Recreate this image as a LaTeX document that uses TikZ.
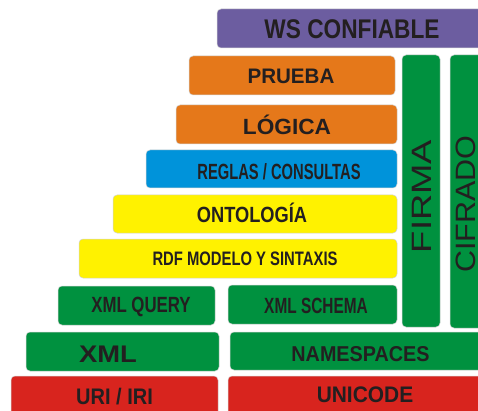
\documentclass[tikz,border=0pt]{standalone}
\usepackage{fontspec}
\usepackage{graphicx}
\setmainfont{Liberation Sans}
\definecolor{cpurple}{RGB}{108,93,160}
\definecolor{corange}{RGB}{229,120,26}
\definecolor{cblue}{RGB}{0,147,218}
\definecolor{cyellow}{RGB}{255,242,0}
\definecolor{cgreen}{RGB}{0,145,63}
\definecolor{cred}{RGB}{216,36,30}
\definecolor{ctext}{RGB}{35,31,32}
\newcommand\bx[3]{\scalebox{#2}[1]{\fontsize{#1}{#1}\selectfont\bfseries #3}}
\newcommand\rx[3]{\scalebox{#2}[1]{\fontsize{#1}{#1}\selectfont #3}}
\tikzset{
  layerbox/.style={rectangle, rounded corners=4pt, draw=black!18, line width=0.5pt, inner sep=0pt},
  lbl/.style={inner sep=0pt, text=ctext, anchor=base}
}
\begin{document}
\begin{tikzpicture}[x=1pt,y=-1pt]
\useasboundingbox (0,0) rectangle (478,411);
\clip (0,0) rectangle (478,411);
% boxes
\node[layerbox, fill=cpurple, minimum width=270pt, minimum height=39pt] (ws) at (352,28.5) {};
\node[layerbox, fill=corange, minimum width=206pt, minimum height=39pt] (prueba) at (292,75.5) {};
\node[layerbox, fill=corange, minimum width=221pt, minimum height=39pt] (logica) at (286.5,124.5) {};
\node[layerbox, fill=cblue, minimum width=251pt, minimum height=38pt] (reglas) at (271.5,169) {};
\node[layerbox, fill=cyellow, minimum width=284pt, minimum height=38pt] (onto) at (255,214) {};
\node[layerbox, fill=cyellow, minimum width=318pt, minimum height=39pt] (rdf) at (238,258.5) {};
\node[layerbox, fill=cgreen, minimum width=157pt, minimum height=39pt] (xmlq) at (136.5,305.5) {};
\node[layerbox, fill=cgreen, minimum width=169pt, minimum height=39pt] (xmls) at (312.5,304.5) {};
\node[layerbox, fill=cgreen, minimum width=193pt, minimum height=39pt] (xml) at (122.5,351.5) {};
\node[layerbox, fill=cgreen, minimum width=257pt, minimum height=38pt] (ns) at (358.5,351) {};
\node[layerbox, fill=cred, minimum width=207pt, minimum height=44pt] (uri) at (114.5,398) {};
\node[layerbox, fill=cred, minimum width=259pt, minimum height=44pt] (uni) at (357.5,398) {};
\node[layerbox, fill=cgreen, minimum width=38pt, minimum height=272pt] (firma) at (421,191) {};
\node[layerbox, fill=cgreen, minimum width=40pt, minimum height=273pt] (cifrado) at (470,191.5) {};
% texts
\node[lbl] (wsT) at (352,38.3) {\bx{27}{0.84}{WS CONFIABLE}};
\node[lbl] (pruebaT) at (291,83.3) {\bx{21}{0.98}{PRUEBA}};
\node[lbl] (logicaT) at (287,134.3) {\bx{22}{1.03}{LÓGICA}};
\node[lbl] (reglasT) at (279,179.3) {\bx{22}{0.67}{REGLAS / CONSULTAS}};
\node[lbl] (ontoT) at (252,222.7) {\bx{22}{0.83}{ONTOLOGÍA}};
\node[lbl] (rdfT) at (245,265.7) {\bx{19.5}{0.76}{RDF MODELO Y SINTAXIS}};
\node[lbl] (xmlqT) at (141,312.3) {\bx{22}{0.765}{XML QUERY}};
\node[lbl] (xmlsT) at (316,313.3) {\bx{22}{0.70}{XML SCHEMA}};
\node[lbl] (xmlT) at (108,362.7) {\bx{24}{1.14}{XML}};
\node[lbl] (nsT) at (360.5,361) {\bx{21.5}{0.92}{NAMESPACES}};
\node[lbl] (uriT) at (114.5,404) {\bx{22.5}{0.89}{URI / IRI}};
\node[lbl] (uniT) at (365,402.7) {\bx{22.5}{0.93}{UNICODE}};
\node[lbl, rotate=90] (firmaT) at (431.7,196.5) {\rx{28}{1.3}{FIRMA}};
\node[lbl, rotate=90] (cifradoT) at (475,204) {\rx{28}{1.09}{CIFRADO}};
\end{tikzpicture}
\end{document}
